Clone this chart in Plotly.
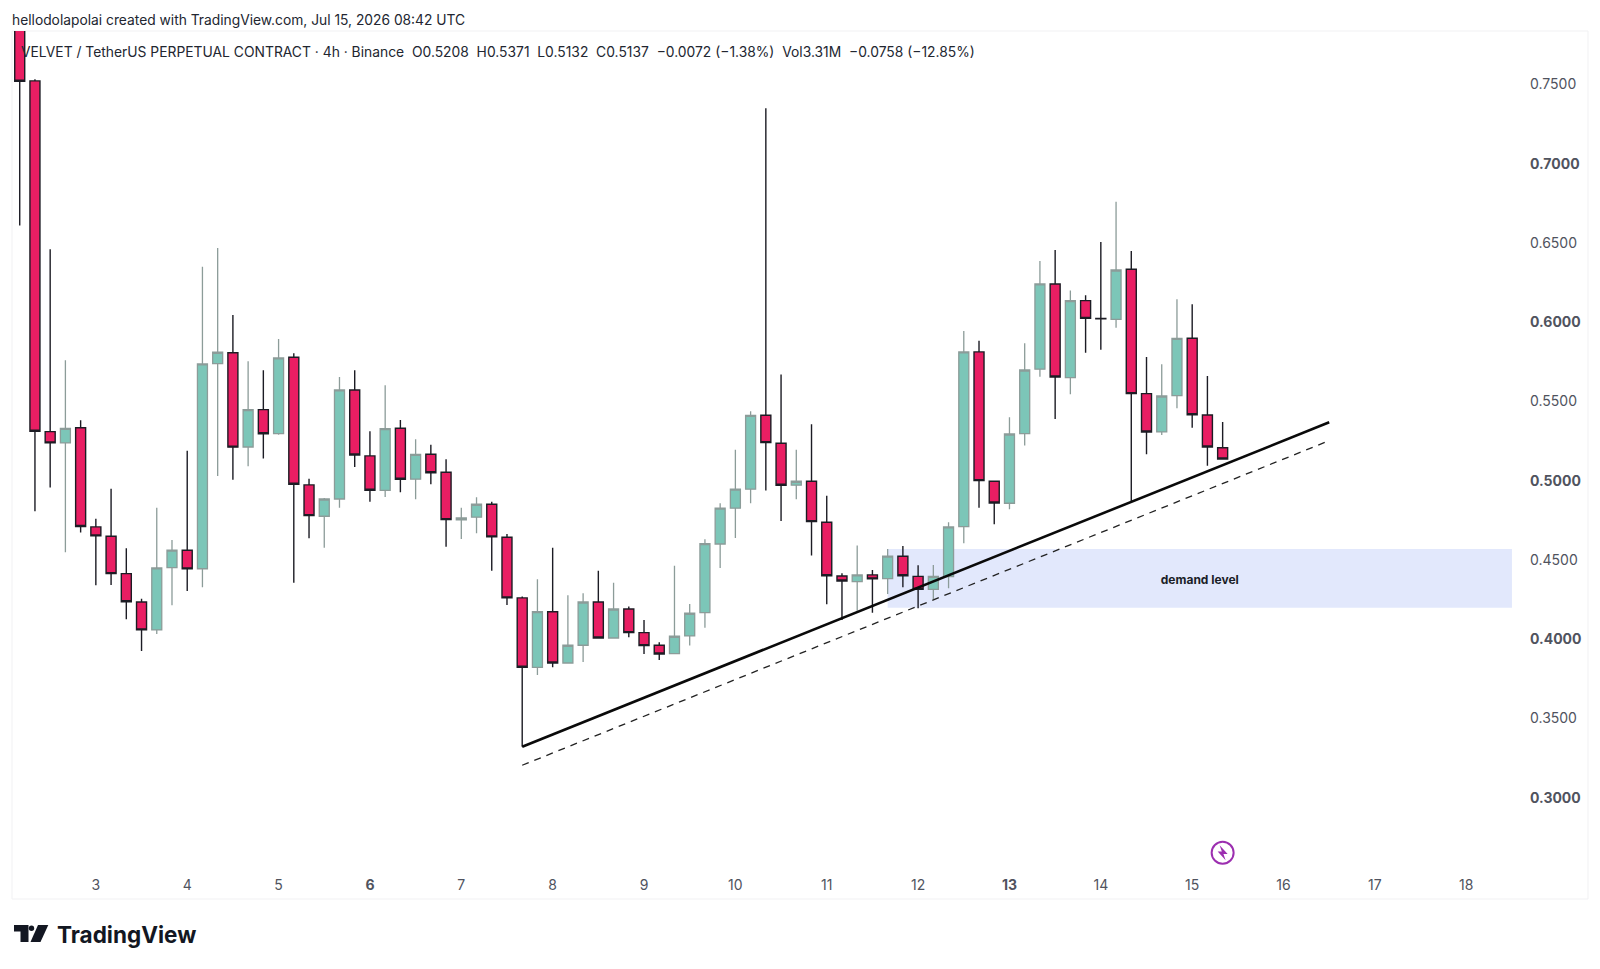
import pandas as pd
import plotly.graph_objects as go

# VELVET/USDT perpetual, 4h candles
first_bar = "2026-07-02 04:00"
opens = [0.82, 0.7523, 0.5310, 0.5239, 0.5335, 0.4709, 0.4650, 0.4414, 0.4235, 0.4059,
         0.4452, 0.4562, 0.4445, 0.5739, 0.5808, 0.5213, 0.5449, 0.5297, 0.5779, 0.4974,
         0.4776, 0.4885, 0.5573, 0.5157, 0.4940, 0.5331, 0.5010, 0.5167, 0.5054, 0.4753,
         0.4770, 0.4852, 0.4644, 0.4261, 0.3823, 0.4174, 0.3850, 0.3962, 0.4235, 0.4008,
         0.4191, 0.4042, 0.3962, 0.3909, 0.4021, 0.4168, 0.4601, 0.4827, 0.4947, 0.5413,
         0.5237, 0.4972, 0.4997, 0.4738, 0.4399, 0.4364, 0.4406, 0.4382, 0.4524, 0.4397,
         0.4315, 0.4395, 0.4711, 0.5813, 0.4997, 0.4858, 0.5297, 0.5704, 0.6242, 0.5651,
         0.6137, 0.6024, 0.6019, 0.6335, 0.5550, 0.5308, 0.5537, 0.5899, 0.5415, 0.5208]
highs = [0.83, 0.7533, 0.6461, 0.5760, 0.5382, 0.4761, 0.4950, 0.4574, 0.4256, 0.4830,
         0.4627, 0.5190, 0.6351, 0.6469, 0.6046, 0.5754, 0.5697, 0.5895, 0.5805, 0.5013,
         0.4892, 0.5655, 0.5697, 0.5312, 0.5603, 0.5384, 0.5262, 0.5228, 0.5136, 0.4830,
         0.4896, 0.4868, 0.4664, 0.4269, 0.4378, 0.4578, 0.4278, 0.4290, 0.4433, 0.4357,
         0.4206, 0.4122, 0.3981, 0.4463, 0.4223, 0.4631, 0.4858, 0.5196, 0.5439, 0.7351,
         0.5671, 0.5196, 0.5357, 0.4906, 0.4416, 0.4591, 0.4437, 0.4570, 0.4589, 0.4467,
         0.4468, 0.4738, 0.5945, 0.5884, 0.5001, 0.5401, 0.5868, 0.6387, 0.6456, 0.6200,
         0.6171, 0.6507, 0.6761, 0.6450, 0.5781, 0.5735, 0.6145, 0.6114, 0.5661, 0.5371]
lows = [0.6610, 0.4808, 0.4957, 0.4549, 0.4673, 0.4341, 0.4343, 0.4126, 0.3926, 0.4033,
        0.4215, 0.4305, 0.4328, 0.5030, 0.5007, 0.5092, 0.5140, 0.5290, 0.4357, 0.4637,
        0.4578, 0.4830, 0.5087, 0.4868, 0.4898, 0.4928, 0.4883, 0.4978, 0.4584, 0.4633,
        0.4669, 0.4433, 0.4216, 0.3322, 0.3775, 0.3823, 0.3845, 0.3857, 0.4004, 0.4004,
        0.4013, 0.3907, 0.3869, 0.3905, 0.3960, 0.4073, 0.4450, 0.4639, 0.4858, 0.4938,
        0.4746, 0.4883, 0.4528, 0.4221, 0.4122, 0.4180, 0.4168, 0.4286, 0.4328, 0.4196,
        0.4252, 0.4322, 0.4606, 0.4830, 0.4726, 0.4820, 0.5222, 0.5657, 0.5390, 0.5546,
        0.5808, 0.5827, 0.5966, 0.4868, 0.5167, 0.5289, 0.5458, 0.5335, 0.5094, 0.5132]
closes = [0.7521, 0.5312, 0.5239, 0.5331, 0.4711, 0.4652, 0.4414, 0.4237, 0.4059, 0.4450,
          0.4562, 0.4444, 0.5737, 0.5811, 0.5212, 0.5449, 0.5297, 0.5775, 0.4978, 0.4780,
          0.4885, 0.5573, 0.5163, 0.4940, 0.5329, 0.5010, 0.5167, 0.5051, 0.4755, 0.4765,
          0.4852, 0.4646, 0.4261, 0.3823, 0.4174, 0.3850, 0.3962, 0.4235, 0.4008, 0.4191,
          0.4042, 0.3960, 0.3907, 0.4019, 0.4164, 0.4603, 0.4827, 0.4947, 0.5413, 0.5241,
          0.4972, 0.4997, 0.4742, 0.4401, 0.4368, 0.4406, 0.4381, 0.4524, 0.4401, 0.4315,
          0.4397, 0.4709, 0.5813, 0.5001, 0.4860, 0.5295, 0.5699, 0.6242, 0.5655, 0.6137,
          0.6025, 0.6022, 0.6330, 0.5550, 0.5308, 0.5535, 0.5899, 0.5417, 0.5213, 0.5137]

# Drawing tools, positioned by bar number and price
trend_bars = [33, 86]
trend_prices = [0.3322, 0.5369]
lower_trend_prices = [0.3205, 0.5253]
zone_bars = [57, 98]
zone_prices = [0.4198, 0.4570]
zone_label = "demand level"
zone_label_price = 0.4368
alert_bar = 79
alert_price = 0.2653

day_ticks = list(range(3, 19))
bold_days = [6, 13]
price_ticks = [0.30, 0.35, 0.40, 0.45, 0.50, 0.55, 0.60, 0.65, 0.70, 0.75]
bold_prices = [0.30, 0.40, 0.50, 0.60, 0.70]

header = "hellodolapolai created with TradingView.com, Jul 15, 2026 08:42 UTC"
legend = ("VELVET / TetherUS PERPETUAL CONTRACT · 4h · Binance&nbsp;&nbsp;O0.5208&nbsp;&nbsp;H0.5371"
          "&nbsp;&nbsp;L0.5132&nbsp;&nbsp;C0.5137&nbsp;&nbsp;−0.0072 (−1.38%)&nbsp;&nbsp;Vol3.31M"
          "&nbsp;&nbsp;−0.0758 (−12.85%)")

WIDTH, HEIGHT = 1600, 969
LEFT, RIGHT, TOP, BOTTOM = 12, 1515, 31, 870
FONT = "Inter, 'Liberation Sans', sans-serif"
UP_FILL, UP_LINE = "#7cc6b8", "#8c9c99"
DOWN_FILL, DOWN_LINE = "#e91e63", "#1c1c24"
TEXT_DARK, TEXT_SOFT = "#222630", "#50535e"


def bar_time(n):
    return pd.Timestamp(first_bar) + pd.Timedelta(hours=4) * n


def px(x):
    return (x - LEFT) / (RIGHT - LEFT)


def py(y):
    return (BOTTOM - y) / (BOTTOM - TOP)


def page_path(points):
    return "M" + " L".join(f"{px(x):.5f},{py(y):.5f}" for x, y in points) + " Z"


times = [bar_time(n) for n in range(len(opens))]

fig = go.Figure()

fig.add_trace(go.Candlestick(
    x=times, open=opens, high=highs, low=lows, close=closes,
    increasing=dict(fillcolor=UP_FILL, line=dict(color=UP_LINE, width=1.3)),
    decreasing=dict(fillcolor=DOWN_FILL, line=dict(color=DOWN_LINE, width=1.4)),
    whiskerwidth=0, hoverinfo="skip", showlegend=False,
))

# Rising trendline and its dashed parallel
fig.add_trace(go.Scatter(
    x=[bar_time(n) for n in trend_bars], y=trend_prices, mode="lines",
    line=dict(color="#0a0a0a", width=2.6), hoverinfo="skip", showlegend=False,
))
fig.add_trace(go.Scatter(
    x=[bar_time(n) for n in trend_bars], y=lower_trend_prices, mode="lines",
    line=dict(color="#222222", width=1.3, dash="7px,6px"), hoverinfo="skip", showlegend=False,
))

fig.add_trace(go.Scatter(
    x=[bar_time(sum(zone_bars) / 2)], y=[zone_label_price], mode="text",
    text=[f"<b>{zone_label}</b>"], textposition="middle center",
    textfont=dict(family=FONT, size=12, color="#1b1e28"), hoverinfo="skip", showlegend=False,
))

# Alert marker near the time axis
fig.add_trace(go.Scatter(
    x=[bar_time(alert_bar)], y=[alert_price], mode="markers",
    marker=dict(symbol="circle-open", size=22, color="#9c2fb0", line=dict(color="#9c2fb0", width=2)),
    hoverinfo="skip", showlegend=False,
))

bolt = "M 3,-7.5 L -5,1.2 L -0.8,1.2 L -3,7.5 L 5,-1.2 L 0.8,-1.2 Z"

shapes = [
    # Chart panel outline
    dict(type="rect", xref="paper", yref="paper", x0=px(12), x1=px(1588), y0=py(899), y1=py(31),
         line=dict(color="#f1f1f3", width=1), layer="below"),
    # Demand zone behind the candles
    dict(type="rect", xref="x", yref="y", x0=bar_time(zone_bars[0]), x1=bar_time(zone_bars[1]),
         y0=zone_prices[0], y1=zone_prices[1], fillcolor="#e2e8fc", line=dict(width=0), layer="below"),
    # Lightning bolt inside the alert marker
    dict(type="path", xref="x", yref="y", xsizemode="pixel", ysizemode="pixel",
         xanchor=bar_time(alert_bar), yanchor=alert_price, path=bolt,
         fillcolor="#9c2fb0", line=dict(width=0)),
    # TradingView logo: T, dot and V
    dict(type="path", xref="paper", yref="paper", fillcolor="#131722", line=dict(width=0),
         path=page_path([(14, 925), (28.5, 925), (28.5, 942), (20.5, 942), (20.5, 931.5), (14, 931.5)])),
    dict(type="circle", xref="paper", yref="paper", fillcolor="#131722", line=dict(width=0),
         x0=px(28.8), x1=px(34.2), y0=py(931), y1=py(925.6)),
    dict(type="path", xref="paper", yref="paper", fillcolor="#131722", line=dict(width=0),
         path=page_path([(38, 925), (48.3, 925), (40.5, 942), (30.5, 942)])),
]

annotations = [
    dict(xref="paper", yref="paper", x=px(9.5), y=py(20), xanchor="left", yanchor="middle",
         text=header, showarrow=False, font=dict(family=FONT, size=13.8, color=TEXT_DARK)),
    dict(xref="paper", yref="paper", x=px(18.5), y=py(52), xanchor="left", yanchor="middle",
         text=legend, showarrow=False, font=dict(family=FONT, size=13.85, color=TEXT_DARK)),
    dict(xref="paper", yref="paper", x=px(54.5), y=py(934), xanchor="left", yanchor="middle",
         text="<b>TradingView</b>", showarrow=False, font=dict(family=FONT, size=22.5, color="#131722")),
]

fig.update_layout(
    width=WIDTH, height=HEIGHT, autosize=False,
    margin=dict(l=LEFT, r=WIDTH - RIGHT, t=TOP, b=HEIGHT - BOTTOM, pad=0),
    paper_bgcolor="white", plot_bgcolor="white", showlegend=False,
    shapes=shapes, annotations=annotations,
    boxgap=0.1, boxgroupgap=0.27,
    xaxis=dict(
        type="date", rangeslider=dict(visible=False), showgrid=False, zeroline=False, showline=False,
        range=[bar_time(-0.507), bar_time(98.2)],
        tickmode="array",
        tickvals=[pd.Timestamp(2026, 7, d) for d in day_ticks],
        ticktext=[f"<b>{d}</b>" if d in bold_days else str(d) for d in day_ticks],
        ticks="", ticklabelstandoff=5,
        tickfont=dict(family=FONT, size=14, color=TEXT_SOFT),
    ),
    yaxis=dict(
        side="right", showgrid=False, zeroline=False, showline=False,
        range=[0.2544, 0.7838], tickmode="array", tickvals=price_ticks,
        ticktext=[f"<b>{p:.4f}</b>" if p in bold_prices else f"{p:.4f}" for p in price_ticks],
        ticks="", ticklabelstandoff=14,
        tickfont=dict(family=FONT, size=14, color=TEXT_SOFT),
    ),
)

fig.write_html("out.html")
